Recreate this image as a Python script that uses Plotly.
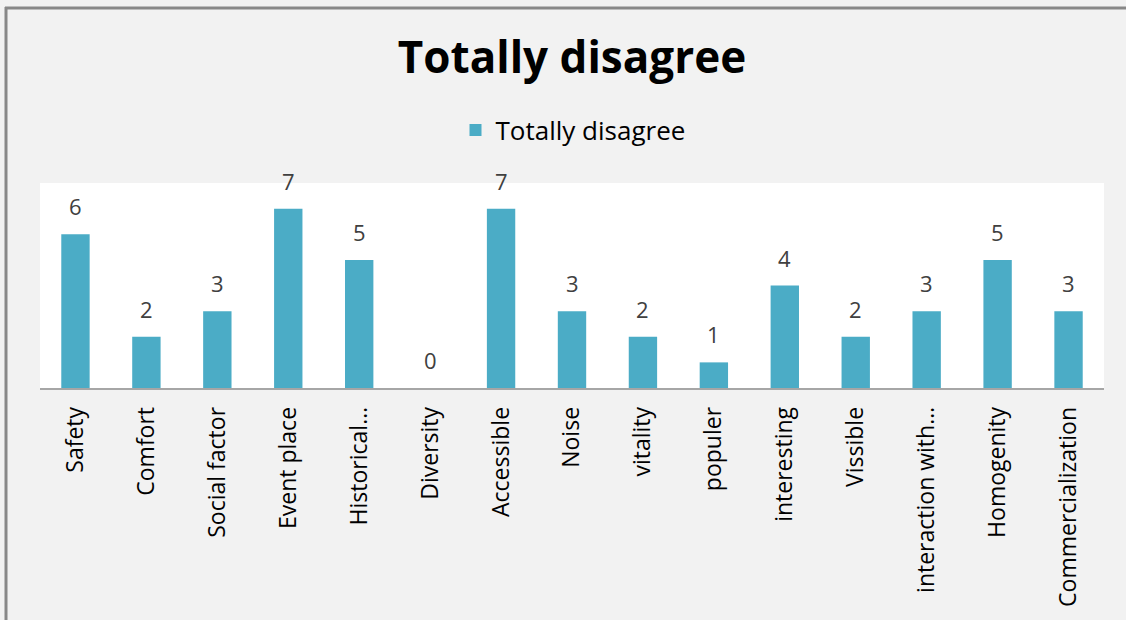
import plotly.graph_objects as go

categories = ["Safety", "Comfort", "Social factor", "Event place", "Historical…",
              "Diversity", "Accessible", "Noise", "vitality", "populer",
              "interesting", "Vissible", "interaction with…", "Homogenity",
              "Commercialization"]
totally_disagree = [6, 2, 3, 7, 5, 0, 7, 3, 2, 1, 4, 2, 3, 5, 3]

W, H = 1126, 620
L, R, T, B = 40, 22, 183, 232
FONT = "Open Sans"
BAR = "#4bacc6"

fig = go.Figure()
fig.add_trace(go.Bar(
    x=categories, y=totally_disagree, name="Totally disagree",
    marker=dict(color=BAR, line=dict(width=0)),
    width=0.4,
))

# value labels above each bar
for c, v in zip(categories, totally_disagree):
    fig.add_annotation(x=c, y=v, text=str(v), showarrow=False,
                       yanchor="bottom", yshift=11,
                       font=dict(family=FONT, size=22, color="#404040"))

# frame lines along the top and left edges of the chart area
pw = W - L - R
ph = H - T - B
def px_x(p):
    return (p - L) / pw
def px_y(p):
    return 1 - (p - T) / ph
fig.add_shape(type="line", xref="paper", yref="paper",
              x0=px_x(5), x1=px_x(W + 5), y0=px_y(8), y1=px_y(8),
              line=dict(color="#888888", width=3))
fig.add_shape(type="line", xref="paper", yref="paper",
              x0=px_x(6), x1=px_x(6), y0=px_y(7), y1=px_y(H + 5),
              line=dict(color="#888888", width=3))

fig.update_layout(
    width=W, height=H,
    margin=dict(l=L, r=R, t=T, b=B),
    paper_bgcolor="#f2f2f2",
    plot_bgcolor="#ffffff",
    title=dict(text="<b>Totally disagree</b>", x=px_x(572), xanchor="center",
               xref="paper", y=1 - 58 / H, yanchor="middle",
               font=dict(family=FONT, size=44, color="#000000")),
    showlegend=True,
    legend=dict(orientation="h", x=px_x(573), xanchor="center",
                y=px_y(130), yanchor="middle",
                font=dict(family=FONT, size=26, color="#000000"),
                bgcolor="rgba(0,0,0,0)", itemwidth=30),
    bargap=0.6,
    xaxis=dict(tickangle=-90, showline=True, linecolor="#a6a6a6", linewidth=1.5,
               ticks="", ticklabelstandoff=8, automargin=False,
               tickfont=dict(family=FONT, size=23, color="#000000"),
               showgrid=False, zeroline=False),
    yaxis=dict(range=[0, 8], visible=False, showgrid=False, zeroline=False,
               automargin=False),
)

fig.write_html("out.html")
